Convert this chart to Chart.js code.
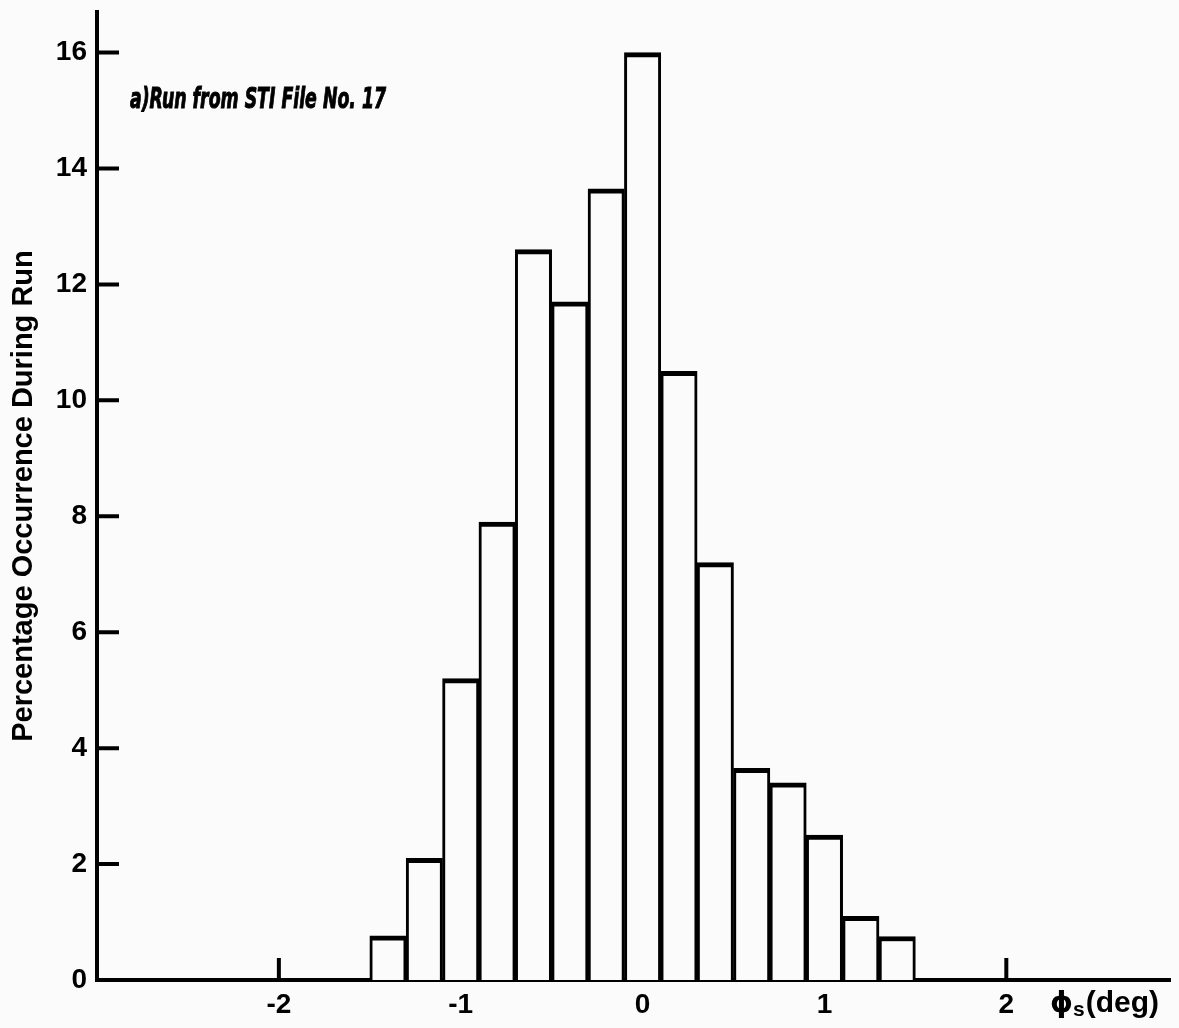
<!DOCTYPE html>
<html>
<head>
<meta charset="utf-8">
<script src="https://cdn.jsdelivr.net/npm/chart.js@4.4.1/dist/chart.umd.min.js"></script>
<style>
  html, body { margin: 0; padding: 0; background: #fbfbfb; }
  #wrap { width: 1179px; height: 1028px; }
</style>
</head>
<body>
<div id="wrap"><canvas id="hist-chart" width="1179" height="1028"></canvas></div>
<script>
// bin centres (deg) and percentage occurrence
var binCenters = [-1.4, -1.2, -1.0, -0.8, -0.6, -0.4, -0.2, 0.0, 0.2, 0.4, 0.6, 0.8, 1.0, 1.2, 1.4];
var percentOccurrence = [0.76, 2.1, 5.2, 7.9, 12.6, 11.7, 13.65, 16.0, 10.5, 7.2, 3.65, 3.4, 2.5, 1.1, 0.75];
var xTickValues = [-2, -1, 0, 1, 2];
var yTickValues = [0, 2, 4, 6, 8, 10, 12, 14, 16];

var yTitle = 'Percentage Occurrence During Run';
var runNote = 'a)Run from STI File No. 17';

// tick marks point into the plot, so draw them before the bars cover them
var inwardTicks = {
    id: 'inwardTicks',
    beforeDatasetsDraw: function(chart) {
        var ctx = chart.ctx;
        var xs = chart.scales.x, ys = chart.scales.y;
        ctx.save();
        ctx.strokeStyle = '#000';
        ctx.lineWidth = 4;
        ctx.beginPath();
        yTickValues.forEach(function(v) {
            if (v === 0) return;
            var py = ys.getPixelForValue(v);
            ctx.moveTo(xs.left, py);
            ctx.lineTo(xs.left + 22, py);
        });
        xTickValues.forEach(function(v) {
            var px = xs.getPixelForValue(v);
            ctx.moveTo(px, ys.bottom);
            ctx.lineTo(px, ys.bottom - 22);
        });
        ctx.stroke();
        ctx.restore();
    },
    afterDraw: function(chart) {
        var ctx = chart.ctx;
        var ys = chart.scales.y;
        ctx.save();
        ctx.fillStyle = '#000';
        ctx.strokeStyle = '#000';
        // note in the upper left (stroked a little to get the heavy look)
        ctx.font = 'italic bold 29px "DejaVu Sans Condensed", "DejaVu Sans", sans-serif';
        ctx.textBaseline = 'middle';
        ctx.textAlign = 'left';
        ctx.lineWidth = 1;
        ctx.fillText(runNote, 130, 100, 256);
        ctx.strokeText(runNote, 130, 100, 256);
        // x axis label: phi with subscript s
        var y0 = ys.bottom + 24;
        var x0 = 1050;
        ctx.font = 'bold 29px "DejaVu Sans", sans-serif';
        ctx.fillText('\u03d5', x0, y0);
        x0 += ctx.measureText('\u03d5').width;
        ctx.font = 'bold 21px "Liberation Sans", Arial, sans-serif';
        ctx.fillText('s', x0, y0 + 6);
        x0 += ctx.measureText('s').width + 1;
        ctx.font = 'bold 30px "Liberation Sans", Arial, sans-serif';
        ctx.fillText('(deg)', x0, y0, 84);
        ctx.restore();
    }
};

var histData = binCenters.map(function(c, i) {
    return { x: c, y: percentOccurrence[i] };
});

var histCanvas = document.getElementById('hist-chart');

new Chart(histCanvas, {
    type: 'bar',
    data: {
        datasets: [{
            data: histData,
            backgroundColor: '#fbfbfb',
            borderColor: '#000',
            borderWidth: { top: 5, left: 3, right: 3, bottom: 0 },
            borderSkipped: 'start',
            barPercentage: 1.0,
            categoryPercentage: 1.0
        }]
    },
    options: {
        responsive: false,
        animation: false,
        events: [],
        layout: { padding: { top: 12, right: 9, left: 0, bottom: 0 } },
        plugins: {
            legend: { display: false },
            tooltip: { enabled: false }
        },
        scales: {
            x: {
                type: 'linear',
                min: -3,
                max: 2.9,
                offset: false,
                grid: { display: false, drawTicks: false },
                border: { display: true, color: '#000', width: 4 },
                ticks: {
                    stepSize: 1,
                    includeBounds: false,
                    padding: 8,
                    color: '#000',
                    font: { family: '"Liberation Sans", Arial, sans-serif', size: 28, weight: 'bold' },
                    callback: function(v) {
                        return xTickValues.indexOf(v) >= 0 ? String(v) : '';
                    }
                },
                afterFit: function(s) { s.height = 48; }
            },
            y: {
                min: 0,
                max: 16.7,
                grid: { display: false, drawTicks: false },
                border: { display: true, color: '#000', width: 4 },
                ticks: {
                    stepSize: 2,
                    includeBounds: false,
                    padding: 10,
                    color: '#000',
                    font: { family: '"Liberation Sans", Arial, sans-serif', size: 28, weight: 'bold' }
                },
                title: {
                    display: true,
                    text: yTitle,
                    color: '#000',
                    padding: { top: 7, bottom: 0 },
                    font: { family: '"Liberation Sans", Arial, sans-serif', size: 29, weight: 'bold' }
                },
                afterFit: function(s) {
                    s.width = 97;
                    s.paddingTop = 0;
                    s.paddingBottom = 0;
                }
            }
        }
    },
    plugins: [inwardTicks]
});
</script>
</body>
</html>
